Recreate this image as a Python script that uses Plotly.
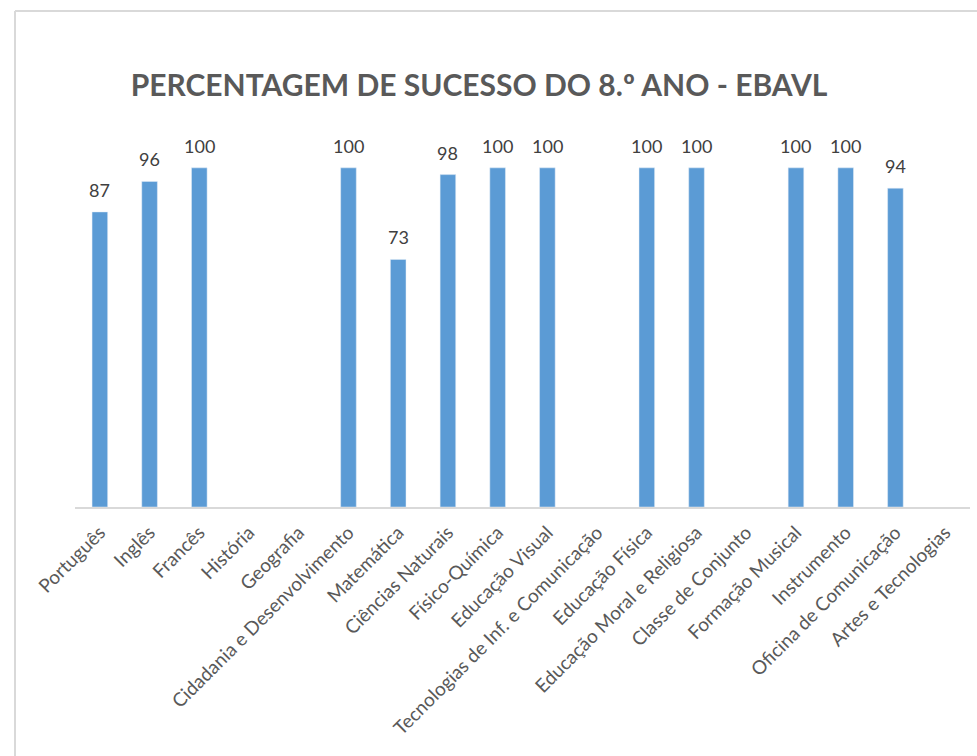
import plotly.graph_objects as go

categories = ["Português", "Inglês", "Francês", "História", "Geografia",
              "Cidadania e Desenvolvimento", "Matemática", "Ciências Naturais",
              "Físico-Química", "Educação Visual", "Tecnologias de Inf. e Comunicação",
              "Educação Física", "Educação Moral e Religiosa", "Classe de Conjunto",
              "Formação Musical", "Instrumento", "Oficina de Comunicação",
              "Artes e Tecnologias"]
values = [87, 96, 100, None, None, 100, 73, 98, 100, 100, None,
          100, 100, None, 100, 100, 94, None]
title_text = "PERCENTAGEM DE SUCESSO DO 8.º ANO - EBAVL"

fig = go.Figure(go.Bar(
    x=categories, y=values,
    marker=dict(color="#5B9BD5"), cliponaxis=False, hoverinfo="x+y",
))

for c, v in zip(categories, values):
    if v is not None:
        fig.add_annotation(x=c, y=v, text=str(v), showarrow=False,
                           yanchor="bottom", yshift=9,
                           font=dict(family="Lato", size=18, color="#404040"))

W, H = 977, 756
ml, mr, mt, mb = 75, 7, 100, 249
pw, ph = W - ml - mr, H - mt - mb

def px_x(x):
    return (x - ml) / pw

def px_y(y):
    return (H - mb - y) / ph

fig.update_layout(
    width=W, height=H,
    margin=dict(l=ml, r=mr, t=mt, b=mb, autoexpand=False),
    paper_bgcolor="white", plot_bgcolor="white",
    bargap=0.686, showlegend=False,
    title=dict(text=title_text, x=479 / W, xanchor="center", y=1 - 85 / H, yanchor="middle",
               font=dict(family="Lato", size=30, color="#595959", weight="bold")),
    xaxis=dict(showline=True, linecolor="#d9d9d9", linewidth=2, tickangle=-45,
               ticks="outside", ticklen=5, tickcolor="rgba(0,0,0,0)",
               tickfont=dict(family="Lato", size=19, color="#595959"), showgrid=False),
    yaxis=dict(range=[0, 120], visible=False, showgrid=False),
    shapes=[
        dict(type="line", xref="paper", yref="paper", x0=px_x(15), x1=px_x(15),
             y0=px_y(11), y1=px_y(770), line=dict(color="#d9d9d9", width=2)),
        dict(type="line", xref="paper", yref="paper", x0=px_x(15), x1=px_x(990),
             y0=px_y(11), y1=px_y(11), line=dict(color="#d9d9d9", width=2)),
    ],
)

fig.write_html("out.html", config={"displayModeBar": False},
               post_script="document.body.style.margin='0';")
